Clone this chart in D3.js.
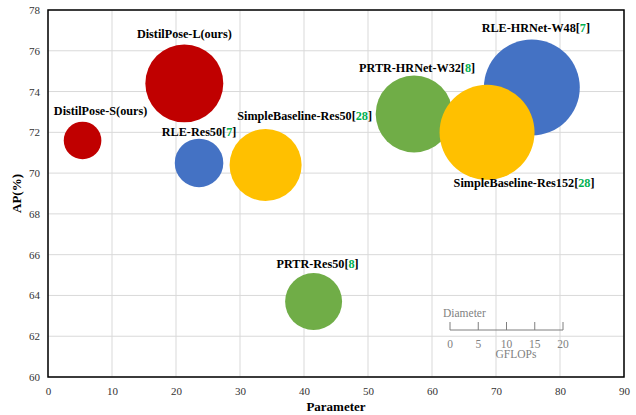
<!DOCTYPE html>
<html>
<head>
<meta charset="utf-8">
<script src="https://cdn.jsdelivr.net/npm/d3@7"></script>
<style>
  body { margin: 0; background: #fff; }
  text { font-family: "Liberation Serif", "Times New Roman", serif; }
</style>
</head>
<body>
<div id="chart"></div>
<script>
const width = 636;
const height = 415;

// models, in drawing order
const models = ["DistilPose-S(ours)", "DistilPose-L(ours)", "RLE-Res50", "RLE-HRNet-W48",
  "PRTR-Res50", "PRTR-HRNet-W32", "SimpleBaseline-Res50", "SimpleBaseline-Res152"];
const refs = ["", "", "7", "7", "8", "8", "28", "28"];
const params = [5.4, 21.3, 23.6, 75.6, 41.5, 57.2, 34.0, 68.6];
const ap = [71.6, 74.4, 70.5, 74.2, 63.7, 72.9, 70.4, 72.0];
const gflops = [2.4, 10.3, 4.0, 15.6, 5.5, 10.0, 8.8, 15.3];
const family = ["DistilPose", "DistilPose", "RLE", "RLE", "PRTR", "PRTR", "SimpleBaseline", "SimpleBaseline"];

const xTicks = [0, 10, 20, 30, 40, 50, 60, 70, 80, 90];
const yTicks = [60, 62, 64, 66, 68, 70, 72, 74, 76, 78];
const legendTicks = [0, 5, 10, 15, 20];

const familyColor = {
  DistilPose: "#c00000",
  RLE: "#4472c4",
  PRTR: "#70ad47",
  SimpleBaseline: "#ffc000"
};

// label placement relative to bubble centre (px)
const labelOffset = [[18, -25], [0, -45], [0, -27], [4, -55], [4, -34], [3, -42], [39, -45], [37, 55]];

const margin = { top: 10, right: 12, bottom: 38, left: 48 };

const svg = d3.select("#chart").append("svg")
  .attr("width", width)
  .attr("height", height);

const x = d3.scaleLinear().domain([0, 90]).range([margin.left, width - margin.right]);
const y = d3.scaleLinear().domain([60, 78]).range([height - margin.bottom, margin.top]);
const r = d3.scaleSqrt().domain([0, 20]).range([0, 54.3]);

// grid
svg.append("g").selectAll("line").data(xTicks).join("line")
  .attr("x1", d => x(d)).attr("x2", d => x(d))
  .attr("y1", y(60)).attr("y2", y(78))
  .attr("stroke", "#d9d9d9").attr("stroke-width", 1);
svg.append("g").selectAll("line").data(yTicks).join("line")
  .attr("x1", x(0)).attr("x2", x(90))
  .attr("y1", d => y(d)).attr("y2", d => y(d))
  .attr("stroke", "#d9d9d9").attr("stroke-width", 1);

// axes
const xAxis = svg.append("g")
  .attr("transform", `translate(0,${y(60)})`)
  .call(d3.axisBottom(x).tickValues(xTicks).tickSize(0).tickPadding(10));
const yAxis = svg.append("g")
  .attr("transform", `translate(${x(0)},0)`)
  .call(d3.axisLeft(y).tickValues(yTicks).tickSize(0).tickPadding(8));
[xAxis, yAxis].forEach(a => {
  a.select(".domain").remove();
  a.selectAll("text")
    .style("font-family", "'Liberation Serif', serif")
    .style("font-size", "11px")
    .attr("fill", "#333");
});

// bubbles
const idx = d3.range(models.length);
svg.append("g").selectAll("circle").data(idx).join("circle")
  .attr("cx", i => x(params[i]))
  .attr("cy", i => y(ap[i]))
  .attr("r", i => r(gflops[i]))
  .attr("fill", i => familyColor[family[i]]);

// labels
const labels = svg.append("g").selectAll("text").data(idx).join("text")
  .attr("x", i => x(params[i]) + labelOffset[i][0])
  .attr("y", i => y(ap[i]) + labelOffset[i][1])
  .attr("text-anchor", "middle")
  .style("font-size", "12.2px")
  .style("font-weight", "bold")
  .attr("fill", "#000");
labels.append("tspan").text(i => models[i]);
labels.filter(i => refs[i] !== "").append("tspan").text("[");
labels.filter(i => refs[i] !== "").append("tspan").attr("fill", "#00b050").text(i => refs[i]);
labels.filter(i => refs[i] !== "").append("tspan").text("]");

// frame
svg.append("rect")
  .attr("x", x(0)).attr("y", y(78))
  .attr("width", x(90) - x(0)).attr("height", y(60) - y(78))
  .attr("fill", "none").attr("stroke", "#000").attr("stroke-width", 1.5);

// axis titles
svg.append("text")
  .attr("x", (x(0) + x(90)) / 2).attr("y", 411)
  .attr("text-anchor", "middle")
  .style("font-size", "13px").style("font-weight", "bold")
  .text("Parameter");
svg.append("text")
  .attr("transform", `translate(21,${(y(60) + y(78)) / 2}) rotate(-90)`)
  .attr("text-anchor", "middle")
  .style("font-size", "13px").style("font-weight", "bold")
  .text("AP(%)");

// size legend
const lg = svg.append("g").attr("fill", "#7f7f7f");
const lx = d3.scaleLinear().domain([0, 20]).range([450, 563]);
const ly = 330;
lg.append("text").attr("x", 443).attr("y", 317)
  .style("font-size", "11.5px").text("Diameter");
lg.append("line")
  .attr("x1", lx(0)).attr("x2", lx(20)).attr("y1", ly).attr("y2", ly)
  .attr("stroke", "#7f7f7f").attr("stroke-width", 1);
lg.selectAll("line.tick").data(legendTicks).join("line")
  .attr("class", "tick")
  .attr("x1", d => lx(d)).attr("x2", d => lx(d))
  .attr("y1", ly - 8).attr("y2", ly)
  .attr("stroke", "#7f7f7f").attr("stroke-width", 1);
lg.selectAll("text.tl").data(legendTicks).join("text")
  .attr("class", "tl")
  .attr("x", d => lx(d)).attr("y", ly + 18)
  .attr("text-anchor", "middle")
  .style("font-size", "11.5px")
  .text(d => d);
lg.append("text").attr("x", 516).attr("y", ly + 28)
  .attr("text-anchor", "middle")
  .style("font-size", "11.5px").text("GFLOPs");
</script>
</body>
</html>
